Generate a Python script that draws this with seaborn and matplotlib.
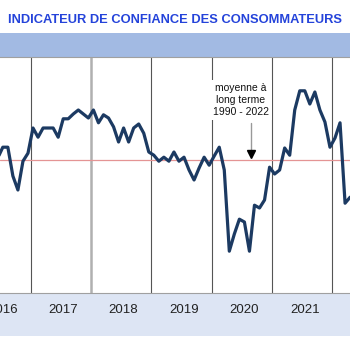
import numpy as np
import pandas as pd
import matplotlib
matplotlib.use("Agg")
import matplotlib.pyplot as plt
from matplotlib.patches import Rectangle
import seaborn as sns

sns.set_theme(style="white")
plt.rcParams['font.family'] = ['Liberation Sans', 'DejaVu Sans']

## Data (monthly indicator, June 2016 - April 2022) ##
cci_2016 = [-6.5, -3.8, -3.8, -11.0, -14.5, -7.3, -5.3]          # Jun-Dec
cci_2017 = [1.0, -1.3, 1.0, 1.0, 1.0, -1.3, 3.3, 3.3, 4.5, 5.5, 4.5, 3.5]
cci_2018 = [5.5, 2.3, 4.3, 3.5, 1.3, -2.5, 1.0, -2.5, 1.0, 2.0, -0.3, -5.0]
cci_2019 = [-5.8, -7.3, -6.3, -7.3, -5.0, -7.3, -6.3, -9.5, -12.0, -9.0, -6.3, -8.3]
cci_2020 = [-6.0, -3.8, -9.5, -29.8, -25.5, -21.8, -22.5, -29.8, -18.3, -19.0, -17.0, -8.8]
cci_2021 = [-10.5, -9.5, -4.0, -5.8, 5.5, 10.3, 10.3, 7.0, 10.0, 5.5, 2.5, -3.8]
cci_2022 = [-1.5, 2.3, -17.8, -16.3]                               # Jan-Apr
long_term_avg = -7.0
years = [2016, 2017, 2018, 2019, 2020, 2021]

title = "INDICATEUR DE CONFIANCE DES CONSOMMATEURS"
note = "moyenne à\nlong terme\n1990 - 2022"

dates = pd.date_range("2016-06-01", "2022-04-01", freq="MS")
values = cci_2016 + cci_2017 + cci_2018 + cci_2019 + cci_2020 + cci_2021 + cci_2022
df = pd.DataFrame({"date": dates, "cci": values})
df["t"] = df["date"].dt.year + (df["date"].dt.month - 0.5) / 12

## Figure ##
W, H = 350, 350
fig = plt.figure(figsize=(3.5, 3.5), dpi=100)
ax = fig.add_axes([0, (H - 293) / H, 1, (293 - 57) / H])
ax.set_zorder(2)

# bands
fig.patches.append(Rectangle((0, (H - 57) / H), 1, 24 / H, transform=fig.transFigure,
                             facecolor="#A2BAE3", edgecolor="none", zorder=-1))
fig.patches.append(Rectangle((0, (H - 336) / H), 1, 43 / H, transform=fig.transFigure,
                             facecolor="#DDE5F4", edgecolor="none", zorder=-1))

fig.text(0.5, (H - 20) / H, title, ha="center", va="center", color="#2443DA",
         fontsize=9.3, fontweight="bold")

# year separators
for y in years[1:] + [2022]:
    if y == 2018:
        ax.axvline(y, color="#B0B0B0", lw=1.8, zorder=1)
    else:
        ax.axvline(y, color="#555555", lw=0.8, zorder=1)

ax.axhline(long_term_avg, color="#E49494", lw=0.9, zorder=1)

sns.lineplot(data=df, x="t", y="cci", ax=ax, color="#1C3A62", lw=2.3, zorder=3)

# note with arrow
ax.text(2020.485, 8.0, note, ha="center", va="center", fontsize=7.5, color="#111111",
        linespacing=1.25, zorder=4,
        bbox=dict(facecolor="white", edgecolor="none", pad=2))
ax.plot([2020.65, 2020.65], [2.3, -5.2], color="#999999", lw=1, zorder=4)
ax.plot([2020.65], [-5.6], marker="v", color="black", ms=5.5, zorder=4)

ax.set_xlim(2016.495, 2022.29)
ax.set_ylim(-40.25, 18.75)
ax.set_xticks([y for y in years[1:] + [2022]])
ax.set_xticklabels([])
ax.set_xticks([y + 0.54 for y in years], minor=True)
ax.set_xticklabels([str(y) for y in years], minor=True, fontsize=9.5, color="#222222")
ax.tick_params(axis="x", which="major", length=4, width=0.8, color="#555555", direction="out")
ax.tick_params(axis="x", which="minor", length=0, pad=8)
ax.set_yticks([])
ax.set_xlabel("")
ax.set_ylabel("")
for s in ["left", "right"]:
    ax.spines[s].set_visible(False)
for s in ["top", "bottom"]:
    ax.spines[s].set_color("#A0A0A0")
    ax.spines[s].set_linewidth(0.8)
ax.set_facecolor("white")

fig.savefig("out.png", dpi=100)
